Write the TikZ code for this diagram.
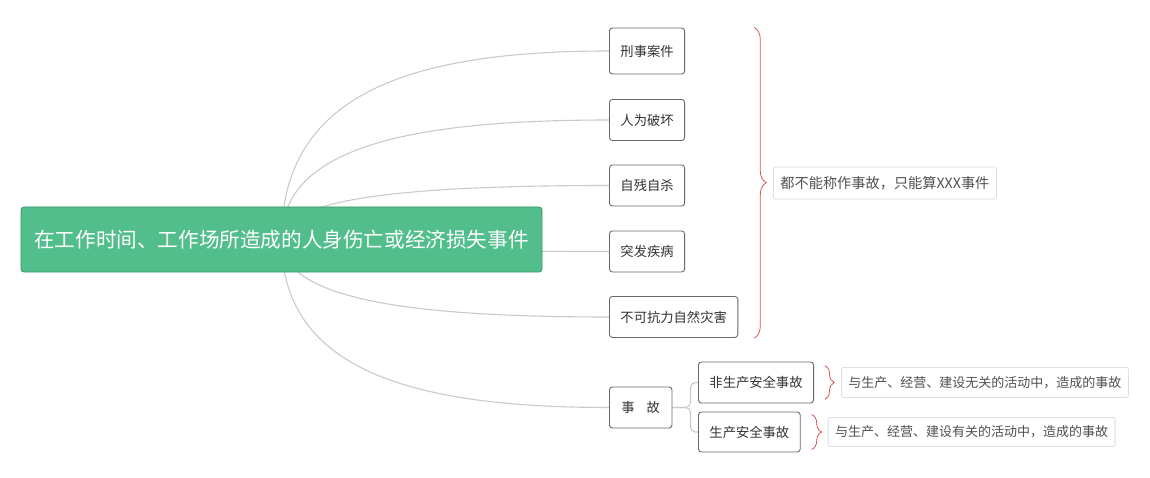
\documentclass[tikz,border=0pt]{standalone}
\usepackage{fontspec}
\setmainfont{Noto Sans CJK SC}
\usepackage{xcolor}
\usepackage{tikz}
\usetikzlibrary{calc,positioning,backgrounds,decorations.pathreplacing}
\definecolor{rootgreen}{RGB}{82,190,140}
\definecolor{rootedge}{RGB}{58,150,104}
\definecolor{leafedge}{RGB}{105,105,105}
\definecolor{linegray}{RGB}{202,202,202}
\definecolor{bracered}{RGB}{215,85,85}
\definecolor{txtgray}{RGB}{51,51,51}
\definecolor{notegray}{RGB}{80,80,80}
\definecolor{noteedge}{RGB}{222,222,222}
\tikzset{
	rootbox/.style={
			draw=rootedge, fill=rootgreen, rounded corners=3pt, line width=0.8pt,
			text=white, font=\fontsize{20.6}{24}\selectfont,
			minimum width=521pt, minimum height=65pt, inner sep=0pt
		},
	leaf/.style={
			draw=leafedge, fill=white, rounded corners=3pt, line width=0.9pt,
			text=txtgray, font=\fontsize{13.3}{16}\selectfont,
			inner xsep=11pt, inner ysep=0pt, minimum height=41pt
		},
	note/.style={
			draw=noteedge, fill=white, rounded corners=2pt, line width=0.8pt,
			text=notegray, inner xsep=7pt, inner ysep=0pt
		},
	branch/.style={draw=linegray, line width=1.1pt},
	redbrace/.style={draw=bracered, line width=0.8pt, decorate, decoration={brace, amplitude=#1}},
	redbrace/.default=10pt
}
\newcommand{\branchto}[1]{%
	\draw[branch] (root.center) .. controls ($(root.center)!0.75!(root.center |- #1.west)$)
		and ($(root.center |- #1.west)+(120,0)$) .. (#1.west);}

\begin{document}
\begin{tikzpicture}[x=1pt,y=-1pt]
	\useasboundingbox (0,0) rectangle (1150,478);

	% Central topic
	\node[rootbox] (root) at (281.5,239.5) {在工作时间、工作场所造成的人身伤亡或经济损失事件};

	% Main branches
	\node[leaf, anchor=west, minimum height=46pt] (xingshi) at (609,51) {刑事案件};
	\node[leaf, anchor=west] (renwei) at (609,120) {人为破坏};
	\node[leaf, anchor=west] (zican) at (609,185.5) {自残自杀};
	\node[leaf, anchor=west] (tufa) at (609,251.5) {突发疾病};
	\node[leaf, anchor=west] (buke) at (609,317) {不可抗力自然灾害};
	\node[leaf, anchor=west, inner xsep=12pt] (shigu) at (609,407.5) {事\hspace{0.9em}故};

	% Sub branches of the last one
	\node[leaf, anchor=west] (feisc) at (698,382.5) {非生产安全事故};
	\node[leaf, anchor=west, minimum height=40pt] (shengchan) at (698,432) {生产安全事故};

	\begin{scope}[on background layer]
		\foreach \leafname in {xingshi,renwei,zican,tufa,buke,shigu} {\branchto{\leafname}}
		\draw[branch, rounded corners=5pt] (shigu.east) -- ++(18,0) |- (feisc.west);
		\draw[branch, rounded corners=5pt] (shigu.east) -- ++(18,0) |- (shengchan.west);
	\end{scope}

	% Summaries
	\draw[redbrace=12pt] ($(xingshi.north -| buke.east)+(16,0)$) -- ($(buke.south east)+(16,0)$);
	\node[note, anchor=west, font=\fontsize{14.2}{17}\selectfont, minimum height=32pt] (summary) at (773,183) {都不能称作事故，只能算XXX事件};

	\draw[redbrace=9pt] ($(feisc.north east)+(11,4)$) -- ($(feisc.south east)+(11,-4)$);
	\draw[redbrace=10pt] ($(shengchan.north east)+(11,3)$) -- ($(shengchan.south east)+(11,-3)$);
	\node[note, right=27pt of feisc, font=\fontsize{13}{16}\selectfont, minimum height=30pt] (feinote) {与生产、经营、建设无关的活动中，造成的事故};
	\node[note, right=27pt of shengchan, font=\fontsize{13}{16}\selectfont, minimum height=29pt] (shengnote) {与生产、经营、建设有关的活动中，造成的事故};

\end{tikzpicture}
\end{document}
